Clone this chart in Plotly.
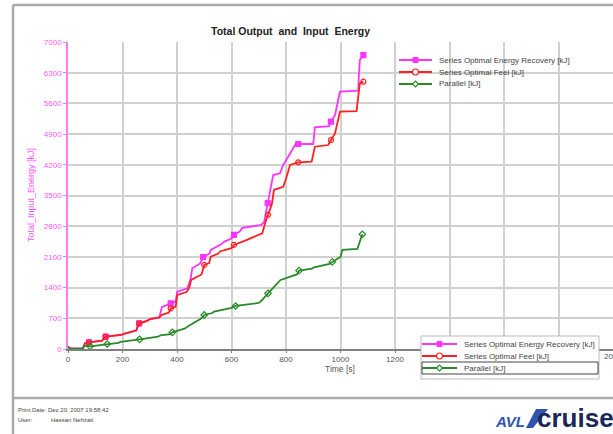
import plotly.graph_objects as go

# Series Optimal Energy Recovery [kJ]
recovery_t = [0, 8, 55, 62, 77, 125, 138, 195, 205, 250, 261, 290, 300, 335, 345, 377, 395, 401,
              438, 450, 456, 485, 496, 520, 524, 560, 574, 600, 609, 630, 640, 709, 720, 733, 745,
              753, 778, 790, 808, 833, 845, 900, 906, 959, 965, 980, 998, 1065, 1068, 1071, 1084]
recovery_e = [50, 10, 10, 130, 150, 190, 280, 320, 345, 420, 586, 640, 680, 720, 960, 1042, 1080, 1309,
              1385, 1600, 1841, 1950, 2093, 2180, 2260, 2380, 2450, 2520, 2602, 2680, 2760, 2830, 2900, 3325, 3700,
              3967, 4005, 4200, 4385, 4651, 4674, 4674, 5055, 5084, 5183, 5335, 5867, 5890, 6300, 6589, 6703]
recovery_mark_t = [77, 138, 261, 377, 496, 609, 733, 845, 965, 1084]
recovery_mark_e = [150, 280, 586, 1042, 2093, 2602, 3325, 4674, 5183, 6703]

# Series Optimal Feel [kJ]
feel_t = [0, 8, 55, 62, 77, 125, 138, 195, 205, 250, 261, 290, 300, 335, 345, 370, 377, 395, 401,
          435, 445, 452, 490, 500, 518, 524, 550, 560, 600, 609, 650, 683, 713, 725, 734, 748, 756,
          790, 800, 815, 845, 894, 906, 955, 965, 980, 998, 1059, 1066, 1071, 1084]
feel_e = [50, 10, 10, 130, 150, 190, 280, 320, 345, 420, 586, 640, 680, 720, 780, 830, 928, 960, 1233,
          1300, 1400, 1575, 1700, 1917, 1960, 2108, 2170, 2230, 2300, 2374, 2470, 2564, 2640, 2900, 3059, 3300, 3630,
          3700, 3880, 4195, 4257, 4271, 4613, 4651, 4765, 4917, 5411, 5426, 5800, 6058, 6095]
feel_mark_t = [77, 138, 261, 377, 500, 609, 734, 845, 965, 1084]
feel_mark_e = [150, 280, 586, 928, 1917, 2374, 3059, 4257, 4765, 6095]

# Parallel [kJ]
parallel_t = [0, 8, 55, 59, 81, 130, 144, 185, 193, 255, 263, 330, 340, 375, 383, 430, 438, 490, 500,
              530, 536, 600, 615, 700, 707, 734, 770, 780, 840, 848, 895, 903, 960, 970, 1000, 1007,
              1062, 1072, 1080]
parallel_e = [50, 10, 10, 76, 60, 90, 114, 140, 160, 200, 220, 280, 312, 340, 380, 470, 510, 700, 776,
              820, 852, 940, 981, 1050, 1080, 1270, 1500, 1575, 1700, 1788, 1830, 1864, 1940, 1986, 2100, 2260,
              2283, 2500, 2617]
parallel_mark_t = [81, 144, 263, 383, 500, 615, 734, 848, 970, 1080]
parallel_mark_e = [60, 114, 220, 380, 776, 981, 1270, 1788, 1986, 2617]

names = ["Series Optimal Energy Recovery [kJ]", "Series Optimal Feel [kJ]", "Parallel [kJ]"]
colors = ["#ff33ff", "#ff2020", "#2a8a2a"]
symbols = ["square", "circle-open", "diamond-open"]
lines_t = [recovery_t, feel_t, parallel_t]
lines_e = [recovery_e, feel_e, parallel_e]
marks_t = [recovery_mark_t, feel_mark_t, parallel_mark_t]
marks_e = [recovery_mark_e, feel_mark_e, parallel_mark_e]

x_ticks = [0, 200, 400, 600, 800, 1000, 1200, 1400, 1600, 1800, 2000]
# 1400..1800 sit under the lower legend box, 2000 is cut at the page edge
x_ticktext = ["0", "200", "400", "600", "800", "1000", "1200", "", "", "", ""]
y_ticks = [0, 700, 1400, 2100, 2800, 3500, 4200, 4900, 5600, 6300, 7000]

W, H = 613, 434
L, R, T, B = 68, 0, 42, 85
PW, PH = W - L - R, H - T - B


def px(x):
    return (x - L) / PW


def py(y):
    return (H - B - y) / PH


fig = go.Figure()

for i in range(3):
    fig.add_trace(go.Scatter(x=lines_t[i], y=lines_e[i], mode="lines", line=dict(color=colors[i], width=1.8),
                             showlegend=False, hoverinfo="skip"))
    fig.add_trace(go.Scatter(x=marks_t[i], y=marks_e[i], mode="markers",
                             marker=dict(symbol=symbols[i], size=5, color=colors[i],
                                         line=dict(color=colors[i], width=1.2)),
                             showlegend=False, hoverinfo="skip"))

grid = "#d0d0d0"
fig.update_layout(
    width=W, height=H,
    margin=dict(l=L, r=R, t=T, b=B),
    paper_bgcolor="white", plot_bgcolor="white",
    showlegend=False,
    xaxis=dict(range=[0, 2000], tickmode="array", tickvals=x_ticks, ticktext=x_ticktext,
               showgrid=True, gridcolor=grid, gridwidth=2,
               showline=True, linecolor="#808080", linewidth=1.5, ticks="outside", ticklen=2,
               ticklabelstandoff=0,
               tickcolor="#808080", tickfont=dict(size=8, color="#555555", family="Liberation Sans"),
               zeroline=False),
    yaxis=dict(range=[0, 7000], tickmode="array", tickvals=y_ticks, showgrid=True, gridcolor=grid, gridwidth=2,
               showline=True, linecolor="#ff77ff", linewidth=1.5, ticks="outside", ticklen=3,
               tickcolor="#aaaaaa", tickfont=dict(size=8, color="#ff55ff", family="Liberation Sans"),
               zeroline=False),
)

# frame of the report page
frame = "#aaaaaa"
for x0, y0, x1, y1 in [(13, 5, W, 5), (13, 5, 13, H), (13, 398, W, 398)]:
    fig.add_shape(type="line", xref="paper", yref="paper", x0=px(x0), x1=px(x1), y0=py(y0), y1=py(y1),
                  line=dict(color=frame, width=2.5))

# legend backgrounds: upper one (no border, behind the traces) and lower one (bordered, on top)
fig.add_shape(type="rect", xref="paper", yref="paper", x0=px(397), x1=px(577), y0=py(50), y1=py(95),
              fillcolor="white", line=dict(width=0), layer="between")
fig.add_shape(type="rect", xref="paper", yref="paper", x0=px(421), x1=px(599), y0=py(336), y1=py(379),
              fillcolor="white", line=dict(color="#bbbbbb", width=1), layer="above")
fig.add_shape(type="rect", xref="paper", yref="paper", x0=px(422), x1=px(598), y0=py(362), y1=py(374),
              line=dict(color="#444444", width=1))

legend_font = dict(size=8, color="#444444", family="Liberation Sans")
for (lx0, lx1, tx, rows) in [(399, 432, 437, [60, 72, 84]), (422, 457, 462, [344, 356, 368])]:
    cx = (lx0 + lx1) / 2
    for i in range(3):
        cy = rows[i]
        fig.add_shape(type="line", xref="paper", yref="paper", x0=px(lx0), x1=px(lx1),
                      y0=py(cy), y1=py(cy), line=dict(color=colors[i], width=1.8))
        fig.add_annotation(text=names[i], xref="paper", yref="paper", x=px(tx), y=py(cy),
                           xanchor="left", yanchor="middle", showarrow=False, font=legend_font)
    # legend symbols: square, open circle, open diamond
    fig.add_shape(type="rect", xref="paper", yref="paper", x0=px(cx - 2.5), x1=px(cx + 2.5),
                  y0=py(rows[0] - 2.5), y1=py(rows[0] + 2.5), fillcolor=colors[0],
                  line=dict(color=colors[0], width=1))
    fig.add_shape(type="circle", xref="paper", yref="paper", x0=px(cx - 3), x1=px(cx + 3),
                  y0=py(rows[1] - 3), y1=py(rows[1] + 3), fillcolor="white",
                  line=dict(color=colors[1], width=1.2))
    d = 3
    cy = rows[2]
    path = "M {} {} L {} {} L {} {} L {} {} Z".format(px(cx - d), py(cy), px(cx), py(cy - d),
                                                      px(cx + d), py(cy), px(cx), py(cy + d))
    fig.add_shape(type="path", xref="paper", yref="paper", path=path, fillcolor="white",
                  line=dict(color=colors[2], width=1.2))

ann = dict(xref="paper", yref="paper", showarrow=False, xanchor="center", yanchor="middle")
fig.add_annotation(text="<b>Total Output&nbsp; and&nbsp; Input&nbsp; Energy</b>", x=px(290), y=py(31),
                   font=dict(size=10.5, color="#222222", family="Liberation Sans"), **ann)
fig.add_annotation(text="Total_Input_Energy [kJ]", x=px(31), y=py(195), textangle=-90,
                   font=dict(size=9, color="#ff55ff", family="Liberation Sans"), **ann)
fig.add_annotation(text="Time [s]", x=px(340), y=py(368.5),
                   font=dict(size=8.5, color="#555555", family="Liberation Sans"), **ann)
# the 2000 label, cut by the right page edge
fig.add_annotation(text="2000", x=1.0, y=py(356.5),
                   font=dict(size=8, color="#555555", family="Liberation Sans"), **ann)

foot = dict(xref="paper", yref="paper", showarrow=False, xanchor="left", yanchor="middle",
            font=dict(size=6, color="#444444", family="Liberation Sans"))
fig.add_annotation(text="Print Date: Dec 20, 2007 19:58:42", x=px(16), y=py(410), **foot)
fig.add_annotation(text="User:", x=px(16), y=py(420), **foot)
fig.add_annotation(text="Hassan Nehzati", x=px(49), y=py(420), **foot)

# AVL cruise logo: blue swoosh, "AVL", "cruise"
swoosh = "M {} {} L {} {} L {} {} L {} {} Z".format(px(526), py(428), px(536), py(409),
                                                    px(548), py(409), px(533), py(428))
fig.add_shape(type="path", xref="paper", yref="paper", path=swoosh, fillcolor="#2c54b0",
              line=dict(width=0))
fig.add_annotation(text="<b><i>AVL</i></b>", xref="paper", yref="paper", x=px(493), y=py(421),
                   xanchor="left", yanchor="middle", showarrow=False,
                   font=dict(size=15, color="#2c54b0", family="Liberation Sans"))
fig.add_annotation(text="<b>cruise</b>", xref="paper", yref="paper", x=px(535), y=py(418),
                   xanchor="left", yanchor="middle", showarrow=False,
                   font=dict(size=26, color="#1c2658", family="Liberation Sans"))

fig.write_html("out.html", config={"displayModeBar": False},
               post_script="document.body.style.margin='0px';")
